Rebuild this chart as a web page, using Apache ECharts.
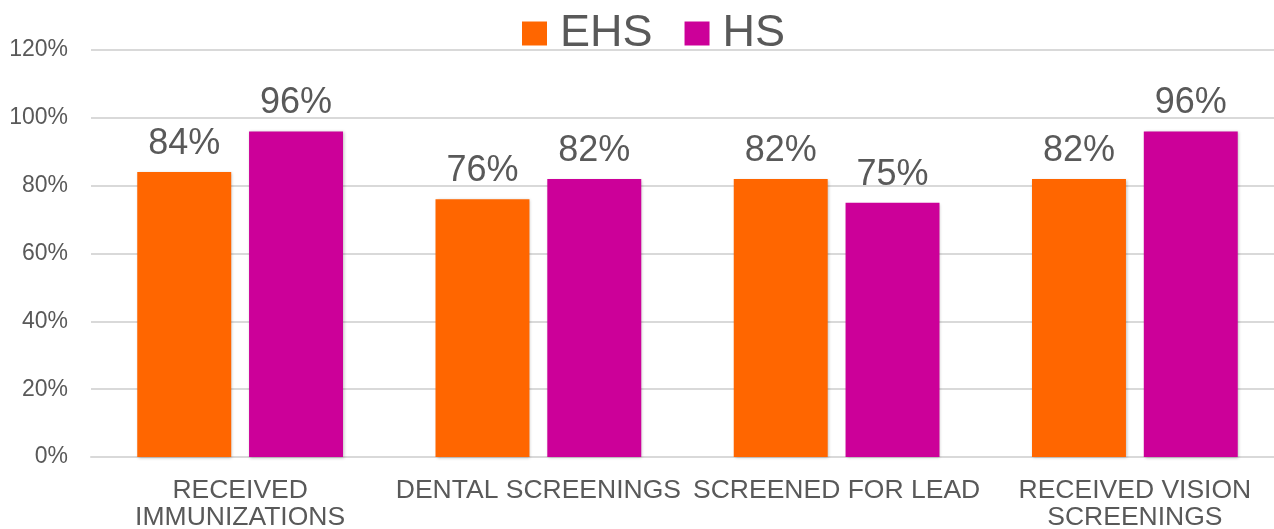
<!DOCTYPE html>
<html>
<head>
<meta charset="utf-8">
<script src="https://cdn.jsdelivr.net/npm/echarts@6/dist/echarts.min.js"></script>
<style>
  html, body { margin: 0; padding: 0; background: #fff; }
  #main { width: 1274px; height: 529px; }
</style>
</head>
<body>
<div id="main"></div>
<script>
const categories = ["RECEIVED\nIMMUNIZATIONS", "DENTAL SCREENINGS", "SCREENED FOR LEAD", "RECEIVED VISION\nSCREENINGS"];
const ehsValues = [0.84, 0.76, 0.82, 0.82];
const hsValues = [0.96, 0.82, 0.75, 0.96];
const seriesNames = ["EHS", "HS"];

const chart = echarts.init(document.getElementById("main"));
const font = "Liberation Sans, Arial, sans-serif";
const pct = v => Math.round(v * 100) + "%";

const barStyle = color => ({
  color: color,
  shadowBlur: 3,
  shadowColor: "rgba(0,0,0,0.25)",
  shadowOffsetX: 1,
  shadowOffsetY: 1
});

const dataLabel = {
  show: true,
  position: "top",
  distance: 10,
  color: "#595959",
  fontSize: 36,
  fontFamily: font,
  formatter: p => pct(p.value)
};

chart.setOption({
  animation: false,
  textStyle: { fontFamily: font },
  legend: {
    top: 6,
    left: 517,
    itemWidth: 25,
    itemHeight: 24,
    itemGap: 32,
    icon: "rect",
    textStyle: { fontSize: 45, color: "#595959", fontFamily: font, padding: [0, 0, 0, 8] },
    data: seriesNames
  },
  grid: { left: 91, right: -10, top: 50, bottom: 72, outerBoundsMode: "none" },
  xAxis: {
    type: "category",
    data: categories,
    axisTick: { show: false },
    axisLine: { lineStyle: { color: "#d9d9d9", width: 2 } },
    axisLabel: {
      color: "#595959",
      fontSize: 26.5,
      fontFamily: font,
      margin: 20,
      lineHeight: 27,
      interval: 0
    }
  },
  yAxis: {
    type: "value",
    min: 0,
    max: 1.2,
    interval: 0.2,
    axisLine: { show: false },
    axisTick: { show: false },
    splitLine: { lineStyle: { color: "#d9d9d9", width: 2 } },
    axisLabel: {
      color: "#595959",
      fontSize: 23,
      fontFamily: font,
      margin: 23,
      formatter: pct
    }
  },
  series: [
    {
      name: seriesNames[0],
      type: "bar",
      data: ehsValues,
      barWidth: "31.5%",
      barGap: "19%",
      itemStyle: barStyle("#ff6600"),
      label: dataLabel
    },
    {
      name: seriesNames[1],
      type: "bar",
      data: hsValues,
      barWidth: "31.5%",
      itemStyle: barStyle("#cc0099"),
      label: dataLabel
    }
  ]
});
</script>
</body>
</html>
